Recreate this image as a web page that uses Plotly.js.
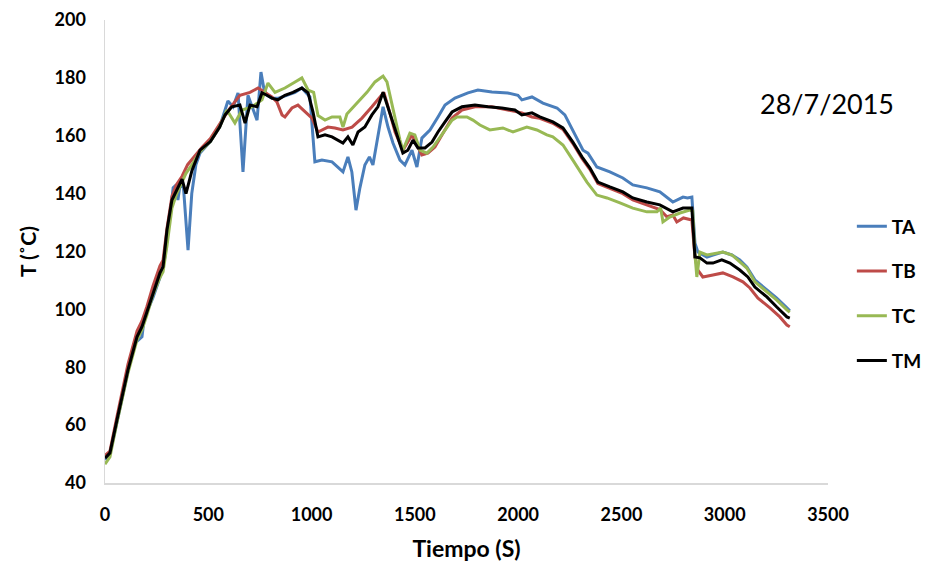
<!DOCTYPE html>
<html>
<head>
<meta charset="utf-8">
<script src="https://cdn.plot.ly/plotly-3.0.1.min.js"></script>
<style>html,body{margin:0;padding:0;background:#fff;}#chart{width:928px;height:574px;}</style>
</head>
<body>
<div id="chart"></div>
<script>
// Series data: [tiempo (s), temperatura (°C)]
const seriesNames = ["TA", "TB", "TC", "TM"];
const seriesColors = ["#4A7EBB", "#BE4B48", "#98B954", "#000000"];

const taPoints = [[0,48],[24,50],[58,61],[82,69],[111,78],[140,88],[179,90.5],[190,97],[203,99],[232,104],[266,111],[290,118],[310,130],[330,142],[345,143],[353,137.8],[363,143],[380,142],[402,120.5],[420,140],[440,150],[460,154],[510,158],[555,163],[595,172],[620,170],[644,174.8],[668,147.5],[692,174],[736,165.4],[755,182],[770,176],[784,174],[808,173],[840,173],[880,174],[920,175],[953,176.5],[992,173.4],[1016,151],[1050,151.6],[1099,151],[1128,149.2],[1152,147.5],[1176,152.7],[1195,147.5],[1215,134.3],[1234,142],[1258,149.9],[1280,152.7],[1297,149.9],[1320,159.2],[1346,170],[1370,163],[1394,157.5],[1428,151.6],[1452,149.9],[1486,155],[1510,149.2],[1534,159.2],[1573,162],[1612,166.5],[1646,170.6],[1694,173],[1757,174.8],[1805,175.8],[1873,175.1],[1950,174.8],[1999,174],[2018,172.4],[2067,173.4],[2120,171.3],[2188,169.6],[2226,167.2],[2265,162],[2314,155],[2338,154],[2381,149.2],[2444,147.5],[2507,145.4],[2555,143],[2623,142],[2686,140.6],[2749,137.1],[2798,138.8],[2820,138.5],[2841,138.8],[2856,122.9],[2870,119.8],[2914,118.1],[2943,118.8],[2991,119.8],[3035,118.8],[3073,117.1],[3107,114.7],[3146,110.2],[3204,106.7],[3252,103.9],[3301,100.5],[3315,99.5]];

const tbPoints = [[0,49.5],[24,51],[58,63],[82,71],[111,81],[155,92.5],[179,96],[203,101],[232,108],[266,115],[281,117],[300,128],[324,139],[345,143],[373,146],[400,150],[435,153],[470,156],[510,159],[555,164],[600,169],[653,174],[702,175],[741,176.5],[775,175],[808,173.4],[832,171.7],[857,167.2],[871,166.5],[905,169.6],[934,170.6],[968,168.2],[1002,166.1],[1031,161.3],[1079,163],[1113,162.7],[1152,162],[1196,163],[1244,166.1],[1292,170],[1331,173.4],[1350,175],[1379,167.9],[1404,161.3],[1442,155],[1486,160.3],[1505,157.5],[1534,153.4],[1563,154],[1597,156.1],[1631,160.3],[1680,166.1],[1728,168.9],[1791,170],[1873,170],[1950,168.9],[2018,167.9],[2067,166.5],[2105,166],[2168,164.3],[2217,162.2],[2265,157.3],[2309,152.2],[2347,148.4],[2386,143.5],[2444,141.8],[2507,140],[2555,137.8],[2623,136.2],[2686,134.5],[2720,132],[2749,132.6],[2768,130.2],[2800,131.6],[2841,130.9],[2856,118],[2870,113.6],[2894,111.2],[2943,111.9],[2991,112.6],[3040,111.2],[3088,109.5],[3122,107.4],[3161,103.9],[3219,100.5],[3267,97.4],[3301,94.6],[3315,94]];

const tcPoints = [[0,46.5],[24,49],[58,61],[82,69],[111,78],[155,89.5],[179,93],[203,98],[232,105],[266,111],[281,113],[300,122],[324,135],[348,140.2],[373,144],[392,147],[421,150],[460,154.5],[510,158],[555,163],[590,168.9],[605,167],[629,164.4],[663,168.9],[711,170],[760,172.4],[789,178.2],[823,175],[871,176.5],[920,178.6],[953,180],[983,175.8],[1010,175],[1031,167],[1065,165.4],[1099,166.5],[1137,166.5],[1152,163],[1171,167.5],[1220,171.3],[1268,175],[1307,178.6],[1346,180.6],[1365,178.6],[1394,168.9],[1428,158.5],[1442,155],[1476,160.9],[1500,160.3],[1525,155],[1558,154],[1588,156.1],[1636,160.9],[1680,165.4],[1704,166.5],[1752,166.5],[1781,165.4],[1815,163.7],[1863,162],[1926,162.7],[1975,161.3],[2042,163],[2091,162],[2139,160.3],[2168,159.6],[2217,156.8],[2265,151.6],[2309,146.4],[2333,144],[2381,139.5],[2430,138.5],[2493,136.8],[2555,135],[2623,133.7],[2672,133.7],[2690,135],[2701,130.2],[2734,131.9],[2783,133.3],[2831,134.3],[2845,134],[2856,118.8],[2865,111.2],[2880,119.8],[2914,118.8],[2991,119.8],[3035,118.8],[3073,116.4],[3107,114.3],[3146,109.5],[3204,106],[3252,103.2],[3301,99.8],[3315,99]];

const tmPoints = [[0,48.6],[24,50.4],[58,61.8],[82,69.7],[111,79],[155,90.5],[179,94],[203,99.1],[232,105.7],[266,112.6],[281,114.7],[300,127.4],[324,137.8],[345,141],[373,145],[392,140],[421,148],[460,155],[510,158],[555,163],[581,167.2],[614,170],[653,170.6],[678,164.4],[702,170.6],[736,170],[760,174.8],[784,174],[808,173],[837,172.4],[871,174],[910,175],[953,176.5],[983,174.8],[1007,168.2],[1031,159.6],[1065,160.3],[1099,159.6],[1128,158.5],[1152,157.5],[1176,159.6],[1200,156.8],[1225,161.3],[1258,163],[1292,167.2],[1321,170],[1346,175],[1370,169.6],[1404,162],[1442,154],[1466,155],[1491,158.5],[1515,155.8],[1549,155.8],[1583,157.8],[1612,161.3],[1646,164.8],[1680,168.2],[1728,170],[1791,170.6],[1854,170],[1921,169.6],[1984,168.9],[2018,167.2],[2067,167.9],[2105,166.5],[2168,164.8],[2217,162.7],[2265,157.8],[2309,152.7],[2347,148.9],[2386,144],[2444,142.3],[2507,140.6],[2555,138.5],[2623,137.1],[2686,136.1],[2749,133.7],[2798,135],[2841,135],[2856,118.1],[2880,117.8],[2914,116],[2943,116],[2986,117.1],[3025,116],[3073,113.6],[3112,111.2],[3146,107.7],[3204,104.3],[3252,100.8],[3301,97.4],[3315,97]];

const xTickVals = [0, 500, 1000, 1500, 2000, 2500, 3000, 3500];
const yTickVals = [40, 60, 80, 100, 120, 140, 160, 180, 200];
const dateLabel = "28/7/2015";

const allPoints = [taPoints, tbPoints, tcPoints, tmPoints];
const FONT = "Lato, 'Open Sans', sans-serif";

const traces = allPoints.map((pts, i) => ({
  type: "scatter",
  mode: "lines",
  name: seriesNames[i],
  legendgroup: seriesNames[i],
  x: pts.map(p => p[0]),
  y: pts.map(p => p[1]),
  line: {color: seriesColors[i], width: 3}
}));

const layout = {
  width: 928, height: 574,
  margin: {l: 105, r: 100, t: 20, b: 91, autoexpand: false},
  paper_bgcolor: "#ffffff",
  plot_bgcolor: "#ffffff",
  font: {family: FONT, color: "#000", size: 18, weight: 700},
  showlegend: true,
  legend: {
    x: 1.033, xanchor: "left",
    y: 0.595, yanchor: "top",
    traceorder: "grouped",
    tracegroupgap: 17,
    font: {family: FONT, size: 19, weight: 700, color: "#000"},
    bgcolor: "rgba(0,0,0,0)"
  },
  xaxis: {
    range: [0, 3500],
    tickvals: xTickVals,
    showgrid: false, zeroline: false,
    showline: true, linecolor: "#d9d9d9", linewidth: 1.5,
    ticks: "",
    ticklabelstandoff: 15,
    tickfont: {family: FONT, size: 18, weight: 700, color: "#000"},
    title: {text: "Tiempo (S)", font: {family: FONT, size: 23, weight: 700, color: "#000"}, standoff: 17}
  },
  yaxis: {
    range: [40, 200],
    tickvals: yTickVals,
    showgrid: false, zeroline: false,
    showline: true, linecolor: "#d9d9d9", linewidth: 1.5,
    ticks: "",
    ticklabelstandoff: 14,
    tickfont: {family: FONT, size: 18, weight: 700, color: "#000"},
    title: {text: "T (˚C)", font: {family: FONT, size: 21, weight: 700, color: "#000"}, standoff: 12}
  },
  annotations: [{
    text: dateLabel,
    xref: "paper", yref: "paper",
    x: 0.998, xanchor: "center",
    y: 0.82, yanchor: "middle",
    showarrow: false,
    font: {family: FONT, size: 27, weight: 400, color: "#000"}
  }]
};

Plotly.newPlot("chart", traces, layout, {displayModeBar: false, staticPlot: true});
</script>
</body>
</html>
